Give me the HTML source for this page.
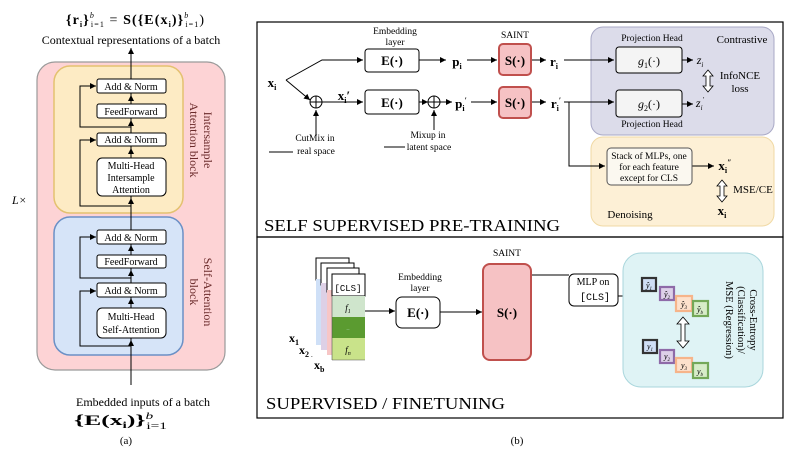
<!DOCTYPE html>
<html><head><meta charset="utf-8"><style>
html,body{margin:0;padding:0;background:#fff;}
svg{display:block;font-family:"Liberation Serif",serif;}
</style></head><body>
<svg width="812" height="462" viewBox="0 0 812 462" xmlns="http://www.w3.org/2000/svg">
<defs>
<marker id="a" markerWidth="8" markerHeight="8" refX="6" refY="3" orient="auto" markerUnits="userSpaceOnUse"><path d="M0,0 L6,3 L0,6 Z" fill="#000"/></marker>
</defs>
<!-- LEFT PANEL -->
<text x="66" y="24" font-size="14" textLength="138" lengthAdjust="spacing"><tspan font-weight="bold">{r</tspan><tspan font-size="8" font-weight="bold" dy="3">i</tspan><tspan dy="-3" font-weight="bold">}</tspan><tspan font-size="8" font-style="italic" dy="-6">b</tspan><tspan font-size="8" dx="-4" dy="9">i=1</tspan><tspan dy="-3"> = </tspan><tspan font-weight="bold">S({E(x</tspan><tspan font-size="8" font-weight="bold" dy="3">i</tspan><tspan dy="-3" font-weight="bold">)}</tspan><tspan font-size="8" font-style="italic" dy="-6">b</tspan><tspan font-size="8" dx="-4" dy="9">i=1</tspan><tspan dy="-3">)</tspan></text>
<text x="131" y="44" font-size="12" text-anchor="middle">Contextual representations of a batch</text>
<rect x="37" y="62" width="188" height="308" rx="18" fill="#fdd3d5" stroke="#9a9a9a" stroke-width="1.2"/>
<rect x="54" y="66" width="129" height="147" rx="16" fill="#fdebc4" stroke="#e4c170" stroke-width="1.5"/>
<rect x="54" y="217" width="129" height="138" rx="16" fill="#d6e4f8" stroke="#6b90c6" stroke-width="1.5"/>
<g stroke="#000" stroke-width="1" fill="none">
<line x1="131" y1="385" x2="131" y2="48" marker-end="url(#a)"/>
<polyline points="131,346 80,346 80,291 96,291" marker-end="url(#a)"/>
<polyline points="131,278 80,278 80,237 96,237" marker-end="url(#a)"/>
<polyline points="131,206 80,206 80,140 96,140" marker-end="url(#a)"/>
<polyline points="131,127 80,127 80,86 96,86" marker-end="url(#a)"/>
<line x1="131" y1="350" x2="131" y2="340" marker-end="url(#a)"/>
<line x1="131" y1="308" x2="131" y2="298" marker-end="url(#a)"/>
<line x1="131" y1="283" x2="131" y2="270" marker-end="url(#a)"/>
<line x1="131" y1="255" x2="131" y2="245" marker-end="url(#a)"/>
<line x1="131" y1="206" x2="131" y2="198" marker-end="url(#a)"/>
<line x1="131" y1="158" x2="131" y2="148" marker-end="url(#a)"/>
<line x1="131" y1="133" x2="131" y2="120" marker-end="url(#a)"/>
<line x1="131" y1="104" x2="131" y2="95" marker-end="url(#a)"/>
</g>
<g fill="#fff" stroke="#000" stroke-width="1">
<rect x="97" y="79" width="69" height="14" rx="2"/>
<rect x="97" y="104" width="69" height="14" rx="2"/>
<rect x="97" y="133" width="69" height="13" rx="2"/>
<rect x="97" y="158" width="69" height="38" rx="5"/>
<rect x="97" y="230" width="69" height="14" rx="2"/>
<rect x="97" y="255" width="69" height="13" rx="2"/>
<rect x="97" y="283" width="69" height="14" rx="2"/>
<rect x="97" y="308" width="69" height="30" rx="5"/>
</g>
<g font-size="10" text-anchor="middle">
<text x="131" y="90">Add &amp; Norm</text>
<text x="131" y="115">FeedForward</text>
<text x="131" y="143">Add &amp; Norm</text>
<text x="131" y="169">Multi-Head</text>
<text x="131" y="181">Intersample</text>
<text x="131" y="193">Attention</text>
<text x="131" y="241">Add &amp; Norm</text>
<text x="131" y="265">FeedForward</text>
<text x="131" y="294">Add &amp; Norm</text>
<text x="131" y="320">Multi-Head</text>
<text x="131" y="333">Self-Attention</text>
</g>
<g font-size="12" fill="#6a2a2a" text-anchor="middle">
<text transform="translate(204,140) rotate(90)">Intersample</text>
<text transform="translate(190,140) rotate(90)">Attention block</text>
<text transform="translate(204,292) rotate(90)">Self-Attention</text>
<text transform="translate(190,292) rotate(90)">block</text>
</g>
<text x="12" y="204" font-size="12" font-style="italic">L×</text>
<text x="143" y="406" font-size="12" text-anchor="middle">Embedded inputs of a batch</text>
<text x="74" y="425" font-size="15" textLength="93" lengthAdjust="spacingAndGlyphs"><tspan font-weight="bold">{E(x</tspan><tspan font-size="9" font-weight="bold" dy="3">i</tspan><tspan dy="-3" font-weight="bold">)}</tspan><tspan font-size="9" font-style="italic" dy="-6">b</tspan><tspan font-size="9" dx="-4" dy="10">i=1</tspan></text>
<text x="126" y="444" font-size="11" text-anchor="middle">(a)</text>

<!-- RIGHT TOP -->
<rect x="257" y="22" width="526" height="215" fill="none" stroke="#000" stroke-width="1.2"/>
<rect x="257" y="237" width="526" height="181" fill="none" stroke="#000" stroke-width="1.2"/>
<rect x="591" y="27" width="183" height="108" rx="12" fill="#dcdcea" stroke="#a9a9c6" stroke-width="1"/>
<rect x="591" y="137" width="183" height="89" rx="12" fill="#fdf0d6" stroke="#f0d9a4" stroke-width="1"/>
<g stroke="#000" stroke-width="1" fill="none">
<polyline points="286,80 322,60 363,60" marker-end="url(#a)"/>
<polyline points="286,80 310,100" marker-end="url(#a)"/>
<line x1="322" y1="102" x2="363" y2="102" marker-end="url(#a)"/>
<line x1="419" y1="60" x2="446" y2="60" marker-end="url(#a)"/>
<line x1="467" y1="60" x2="497" y2="60" marker-end="url(#a)"/>
<line x1="531" y1="60" x2="546" y2="60" marker-end="url(#a)"/>
<line x1="564" y1="60" x2="614" y2="60" marker-end="url(#a)"/>
<line x1="682" y1="60" x2="693" y2="60" marker-end="url(#a)"/>
<line x1="682" y1="104" x2="693" y2="104" marker-end="url(#a)"/>
<line x1="419" y1="102" x2="428" y2="102" marker-end="url(#a)"/>
<line x1="440" y1="102" x2="452" y2="102" marker-end="url(#a)"/>
<line x1="471" y1="102" x2="497" y2="102" marker-end="url(#a)"/>
<line x1="531" y1="102" x2="546" y2="102" marker-end="url(#a)"/>
<line x1="564" y1="102" x2="614" y2="102" marker-end="url(#a)"/>
<polyline points="569,102 569,166 605,166" marker-end="url(#a)"/>
<line x1="692" y1="166" x2="714" y2="166" marker-end="url(#a)"/>
<line x1="316" y1="136" x2="316" y2="110" marker-end="url(#a)"/>
<line x1="434" y1="130" x2="434" y2="110" marker-end="url(#a)"/>
<line x1="269" y1="152" x2="293" y2="152"/>
<line x1="384" y1="147" x2="405" y2="147"/>
<circle cx="316" cy="102" r="6"/><line x1="310" y1="102" x2="322" y2="102"/><line x1="316" y1="96" x2="316" y2="108"/>
<circle cx="434" cy="102" r="6"/><line x1="428" y1="102" x2="440" y2="102"/><line x1="434" y1="96" x2="434" y2="108"/>
</g>
<g fill="#fff" stroke="#000" stroke-width="1">
<rect x="365" y="49" width="54" height="23" rx="3"/>
<rect x="365" y="90" width="54" height="24" rx="3"/>
</g>
<rect x="616" y="47" width="66" height="26" rx="3" fill="#f4f4f4" stroke="#000"/>
<rect x="616" y="90" width="66" height="27" rx="3" fill="#f4f4f4" stroke="#000"/>
<rect x="607" y="148" width="85" height="37" rx="4" fill="#fbf8f0" stroke="#555"/>
<rect x="499" y="44" width="32" height="31" rx="4" fill="#f6c2c4" stroke="#c0504d" stroke-width="2"/>
<rect x="499" y="87" width="32" height="31" rx="4" fill="#f6c2c4" stroke="#c0504d" stroke-width="2"/>
<path d="M708,70 L703,76 L706,76 L706,86 L703,86 L708,92 L713,86 L710,86 L710,76 L713,76 Z" fill="#fff" stroke="#000" stroke-width="0.8"/>
<path d="M722,180 L717,186 L720,186 L720,196 L717,196 L722,202 L727,196 L724,196 L724,186 L727,186 Z" fill="#fff" stroke="#000" stroke-width="0.8"/>
<g font-size="9.5" text-anchor="middle">
<text x="395" y="34">Embedding</text><text x="395" y="45">layer</text>
<text x="515" y="38">SAINT</text>
<text x="652" y="41">Projection Head</text>
<text x="652" y="127">Projection Head</text>
<text x="315" y="141">CutMix in</text><text x="316" y="154">real space</text>
<text x="428" y="138">Mixup in</text><text x="429" y="150">latent space</text>
<text x="649" y="159">Stack of MLPs, one</text>
<text x="649" y="170">for each feature</text>
<text x="649" y="181">except for CLS</text>
</g>
<g font-size="11" text-anchor="middle">
<text x="742" y="43">Contrastive</text>
<text x="740" y="79">InfoNCE</text><text x="740" y="92">loss</text>
<text x="753" y="193">MSE/CE</text>
<text x="630" y="218">Denoising</text>
</g>
<g font-size="13" text-anchor="middle" font-weight="bold">
<text x="392" y="65">E(·)</text><text x="392" y="107">E(·)</text>
<text x="515" y="65">S(·)</text><text x="515" y="107">S(·)</text>
<text x="272" y="87">x<tspan font-size="8" dy="3">i</tspan></text>
<text x="344" y="100">x<tspan font-size="8" dy="3">i</tspan><tspan dy="-3">′</tspan></text>
<text x="457" y="66">p<tspan font-size="8" dy="3">i</tspan></text>
<text x="461" y="108">p<tspan font-size="8" dy="3">i</tspan><tspan font-size="8" dy="-8">′</tspan></text>
<text x="554" y="66">r<tspan font-size="8" dy="3">i</tspan></text>
<text x="556" y="108">r<tspan font-size="8" dy="3">i</tspan><tspan font-size="8" dy="-8">′</tspan></text>
<text x="725" y="170">x<tspan font-size="8" dy="3">i</tspan><tspan font-size="8" dy="-8">″</tspan></text>
<text x="722" y="215">x<tspan font-size="8" dy="3">i</tspan></text>
</g>
<g font-size="12" font-style="italic" text-anchor="middle">
<text x="649" y="65">g<tspan font-size="8" dy="3" font-style="normal">1</tspan><tspan dy="-3" font-style="normal">(·)</tspan></text>
<text x="649" y="108">g<tspan font-size="8" dy="3" font-style="normal">2</tspan><tspan dy="-3" font-style="normal">(·)</tspan></text>
<text x="700" y="64">z<tspan font-size="7" dy="3">i</tspan></text>
<text x="700" y="107">z<tspan font-size="7" dy="3">i</tspan><tspan font-size="7" dy="-8">′</tspan></text>
</g>
<text x="264" y="231" font-size="17" textLength="296" lengthAdjust="spacingAndGlyphs">SELF SUPERVISED PRE-TRAINING</text>

<!-- RIGHT BOTTOM -->
<rect x="316" y="258" width="33" height="22" fill="#fff" stroke="#000"/>
<rect x="316" y="279" width="5" height="66" fill="#cfe0f7"/>
<rect x="321" y="263" width="33" height="22" fill="#fff" stroke="#000"/>
<rect x="321" y="283" width="6" height="67" fill="#ddd0e6"/>
<rect x="327" y="268" width="32" height="24" fill="#fff" stroke="#000"/>
<rect x="327" y="290" width="5" height="65" fill="#f7c6c6"/>
<rect x="332" y="274" width="33" height="22" fill="#fff" stroke="#000"/>
<rect x="332" y="296" width="33" height="21" fill="#cfe5cc"/>
<rect x="332" y="317" width="33" height="21" fill="#5b9b30"/>
<rect x="332" y="338" width="33" height="22" fill="#c9e38a"/>
<line x1="332" y1="296" x2="332" y2="360" stroke="#555" stroke-width="0.6"/>
<line x1="332" y1="360" x2="365" y2="360" stroke="#555" stroke-width="0.6"/>
<text x="348" y="291" font-size="9" font-family="Liberation Mono,monospace" text-anchor="middle">[CLS]</text>
<text x="348" y="311" font-size="9" font-style="italic" text-anchor="middle">f<tspan font-size="6" dy="2">1</tspan></text>
<text x="348" y="330" font-size="7" fill="#9c9" text-anchor="middle">..</text>
<text x="348" y="353" font-size="9" font-style="italic" text-anchor="middle">f<tspan font-size="6" dy="2">n</tspan></text>
<g font-size="12" font-weight="bold">
<text x="289" y="342">x<tspan font-size="8" dy="3">1</tspan></text>
<text x="299" y="354">x<tspan font-size="8" dy="3">2</tspan></text>
<text x="314" y="369">x<tspan font-size="8" dy="3">b</tspan></text>
</g>
<text x="311" y="357" font-size="7">.</text>
<g stroke="#000" stroke-width="1" fill="none">
<line x1="365" y1="311" x2="395" y2="311" marker-end="url(#a)"/>
<line x1="440" y1="312" x2="482" y2="312" marker-end="url(#a)"/>
<line x1="531" y1="275" x2="569" y2="275"/>
<line x1="618" y1="296" x2="637" y2="296" marker-end="url(#a)"/>
</g>
<text x="420" y="280" font-size="9.5" text-anchor="middle">Embedding</text>
<text x="420" y="291" font-size="9.5" text-anchor="middle">layer</text>
<rect x="396" y="297" width="44" height="31" rx="6" fill="#fff" stroke="#000"/>
<text x="418" y="317" font-size="13" font-weight="bold" text-anchor="middle">E(·)</text>
<text x="507" y="256" font-size="9.5" text-anchor="middle">SAINT</text>
<rect x="483" y="264" width="48" height="96" rx="7" fill="#f6c2c4" stroke="#c0504d" stroke-width="2"/>
<text x="507" y="317" font-size="13" font-weight="bold" text-anchor="middle">S(·)</text>
<rect x="569" y="274" width="49" height="32" rx="5" fill="#fff" stroke="#000"/>
<text x="593" y="285" font-size="10" text-anchor="middle">MLP on</text>
<text x="595" y="300" font-size="10" font-family="Liberation Mono,monospace" text-anchor="middle">[CLS]</text>
<rect x="623" y="253" width="140" height="134" rx="18" fill="#dff3f5" stroke="#a9d6dc"/>
<g stroke-width="2.2">
<rect x="642" y="278" width="14" height="13" fill="#cfdef4" stroke="#333"/>
<rect x="660" y="287" width="14" height="13" fill="#ddd0e8" stroke="#8e6aa8"/>
<rect x="676" y="296" width="16" height="15" fill="#fde1cc" stroke="#f6b48a"/>
<rect x="693" y="301" width="15" height="15" fill="#d7ecc8" stroke="#74a858"/>
<rect x="643" y="340" width="14" height="13" fill="#cfdef4" stroke="#333"/>
<rect x="660" y="350" width="14" height="13" fill="#ddd0e8" stroke="#8e6aa8"/>
<rect x="676" y="358" width="16" height="14" fill="#fde1cc" stroke="#f6b48a"/>
<rect x="693" y="363" width="15" height="15" fill="#d7ecc8" stroke="#74a858"/>
</g>
<g font-size="8" font-style="italic" text-anchor="middle">
<text x="649" y="288">ŷ<tspan font-size="5" dy="2">1</tspan></text>
<text x="667" y="297">ŷ<tspan font-size="5" dy="2">2</tspan></text>
<text x="684" y="307">ŷ<tspan font-size="5" dy="2">3</tspan></text>
<text x="700" y="312">ŷ<tspan font-size="5" dy="2">b</tspan></text>
<text x="650" y="349">y<tspan font-size="5" dy="2">1</tspan></text>
<text x="667" y="359">y<tspan font-size="5" dy="2">2</tspan></text>
<text x="684" y="368">y<tspan font-size="5" dy="2">3</tspan></text>
<text x="700" y="374">y<tspan font-size="5" dy="2">b</tspan></text>
</g>
<path d="M683,317 L677,324 L681,324 L681,341 L677,341 L683,348 L689,341 L685,341 L685,324 L689,324 Z" fill="#fff" stroke="#000" stroke-width="0.8"/>
<g font-size="10.5" text-anchor="middle">
<text transform="translate(750,320) rotate(90)">Cross-Entropy</text>
<text transform="translate(738,320) rotate(90)">(Classification)/</text>
<text transform="translate(726,320) rotate(90)">MSE (Regression)</text>
</g>
<text x="266" y="409" font-size="17" textLength="239" lengthAdjust="spacingAndGlyphs">SUPERVISED / FINETUNING</text>
<text x="517" y="444" font-size="11" text-anchor="middle">(b)</text>
</svg>
</body></html>
